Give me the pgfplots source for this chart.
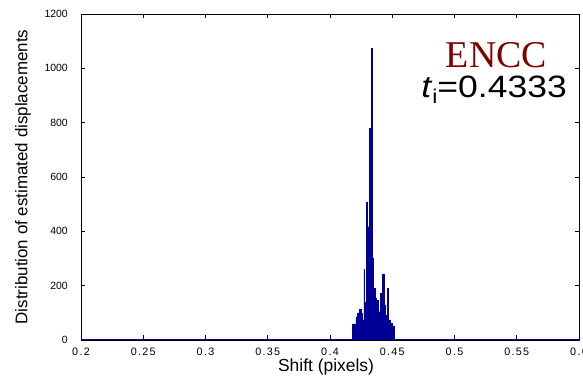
\documentclass[border=0pt]{standalone}
\usepackage{fontspec}
\setmainfont{Liberation Sans}
\newfontfamily\timesfont{Liberation Serif}
\newfontfamily\xtickfont[LetterSpace=12]{Liberation Sans}
\usepackage{pgfplots}
\pgfplotsset{compat=1.18}
\definecolor{hblue}{RGB}{0,0,150}
\definecolor{encc}{RGB}{128,0,0}
\begin{document}
\begin{tikzpicture}
\begin{axis}[
  scale only axis,
  width=498bp, height=326bp,
  xmin=0.2, xmax=0.6, ymin=0, ymax=1200,
  xtick={0.2,0.25,0.3,0.35,0.4,0.45,0.5,0.55,0.6},
  ytick={0,200,400,600,800,1000,1200},
  scaled ticks=false,
  /pgf/number format/assume math mode=true,
  /pgf/number format/1000 sep={},
  tick align=inside,
  major tick length=4.5bp,
  tick style={black, line width=0.6bp},
  axis line style={black, line width=0.8bp},
  xticklabel style={font=\xtickfont\fontsize{10.8}{11}\selectfont, inner sep=0pt, yshift=-8bp},
  yticklabel style={font=\fontsize{10.5}{11}\selectfont, inner sep=0pt, xshift=-13bp},
  every axis x label/.style={at={(axis description cs:0.492,-0.083)}, anchor=center},
  every axis y label/.style={at={(axis description cs:-0.1165,0.5)}, rotate=90, anchor=center},
  xlabel={\fontsize{17.5}{18}\selectfont Shift (pixels)},
  ylabel={\fontsize{17}{18}\selectfont Distribution of estimated displacements},
]
\addplot[const plot mark left, fill=hblue, draw=hblue, line width=0.3bp] coordinates {
(0.41801,59) (0.42070,85) (0.42204,100) (0.42338,114) (0.42473,110) (0.42527,100)
(0.42607,74) (0.42715,260) (0.42769,140) (0.42822,123) (0.42930,509) (0.42984,417)
(0.43145,779) (0.43306,1074) (0.43387,300) (0.43468,150) (0.43521,191) (0.43602,155)
(0.43683,123) (0.43790,147) (0.43871,104) (0.44032,172) (0.44166,130) (0.44220,243)
(0.44328,129) (0.44462,92) (0.44623,191) (0.44704,74) (0.44812,61) (0.44973,52)
(0.45161,0)
} \closedcycle;
\addplot[hblue, line width=2.5bp] coordinates {(0.2,0) (0.6,0)};
\node[anchor=base east, text=encc, inner sep=0pt] at (rel axis cs:0.936,0.837)
  {\timesfont\fontsize{38}{38}\selectfont ENCC};
\node[anchor=base east, inner sep=0pt] at (rel axis cs:0.976,0.745)
  {\scalebox{1.15}[1]{\fontsize{31}{31}\selectfont\textit{t}\raisebox{-0.22em}{\fontsize{20}{20}\selectfont i}=0.4333}};
\end{axis}
\pgfresetboundingbox
\path[use as bounding box] (-81bp,-38bp) rectangle (502bp,340bp);
\end{tikzpicture}
\end{document}
